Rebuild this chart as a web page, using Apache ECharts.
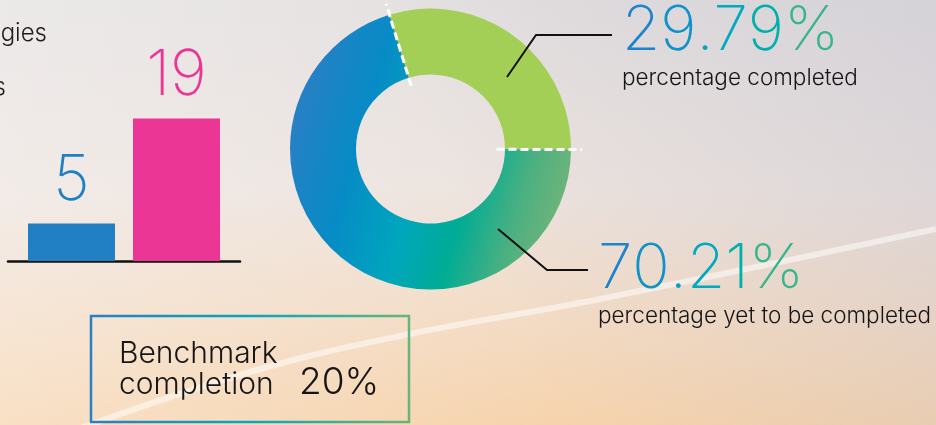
<!DOCTYPE html>
<html><head><meta charset="utf-8">
<script src="https://cdn.jsdelivr.net/npm/echarts@6/dist/echarts.min.js"></script>
<style>html,body{margin:0;padding:0;width:936px;height:425px;overflow:hidden}#c{width:936px;height:425px}</style>
</head><body><div id="c"></div><script>
// ---- data ----
const barCategories = ['Strategies', 'Actions'];
const barValues = [5, 19];
const barColors = ['#2180c4', '#ec3696'];
const donutNames = ['percentage completed', 'percentage yet to be completed'];
const donutValues = [29.79, 70.21];
const benchmarkLines = ['Benchmark', 'completion'];
const benchmarkValue = 20;
const sideTextFragments = ['gies', 's'];

// ---- styles ----
const FONT = 'Inter, "Noto Sans", sans-serif';
const numPalette = ['#1b84cc', '#0f92ca', '#07a0c6', '#00aac0', '#00b0ab', '#38b58d'];
const G = echarts.graphic;
const chart = echarts.init(document.getElementById('c'), null, {renderer: 'canvas'});

const rich = {sub: {fontFamily: FONT, fontSize: 22.5, fontWeight: 300, color: '#151515', lineHeight: 31}};
numPalette.forEach((c, i) => {
  rich['g' + i] = {fontFamily: FONT, fontSize: 62, fontWeight: 200, color: c, lineHeight: 64};
});
function pctLabel(p) {
  const s = p.value.toFixed(2) + '%';
  const chars = s.split('').map((ch, i) => '{g' + Math.min(i, numPalette.length - 1) + '|' + ch + '}').join('');
  return chars + '\n{sub|' + p.name + '}';
}

const CX = 430.5, CY = 149, START = 107;

const barSeries = barValues.map((v, i) => ({
  type: 'bar', name: barCategories[i], data: [v], barWidth: 87, barGap: '20.7%', silent: true, z: 3,
  itemStyle: {color: barColors[i]},
  label: {show: true, position: 'top', distance: 10, color: barColors[i],
    fontFamily: FONT, fontSize: 63, fontWeight: 200, lineHeight: 64}
}));

const leader = (pts) => ({type: 'polyline', z: 20, silent: true, shape: {points: pts},
  style: {stroke: '#111', lineWidth: 2, fill: null}});

const option = {
  animation: false,
  backgroundColor: new G.LinearGradient(0, 0, 0, 1, [
    {offset: 0, color: '#e3dfdf'},
    {offset: 0.45, color: '#ece3de'},
    {offset: 0.75, color: '#f3dbc4'},
    {offset: 1, color: '#f6d3ac'}
  ]),
  grid: {left: 8, width: 232, top: 111, height: 150},
  xAxis: {
    type: 'category', data: ['count'],
    axisLine: {show: true, lineStyle: {color: '#111', width: 2.5}},
    axisTick: {show: false}, axisLabel: {show: false}
  },
  yAxis: {type: 'value', min: 0, max: 20, show: false, splitLine: {show: false}},
  polar: {center: [CX, CY], radius: 152},
  angleAxis: {type: 'value', min: 0, max: 100, startAngle: START, show: false},
  radiusAxis: {type: 'value', min: 0, max: 152, show: false},
  graphic: [
    {type: 'rect', z: 0, silent: true, shape: {x: 0, y: 0, width: 936, height: 425},
      style: {fill: new G.LinearGradient(0, 0, 1, 0, [
        {offset: 0, color: 'rgba(255,255,255,0.30)'},
        {offset: 0.6, color: 'rgba(255,255,255,0)'},
        {offset: 1, color: 'rgba(255,255,255,0)'}])}},
    {type: 'rect', z: 0, silent: true, shape: {x: 0, y: 0, width: 936, height: 425},
      style: {fill: new G.LinearGradient(1, 0, 0, 1, [
        {offset: 0, color: 'rgba(180,180,200,0.30)'},
        {offset: 0.5, color: 'rgba(180,180,200,0)'},
        {offset: 1, color: 'rgba(180,180,200,0)'}])}},
    {type: 'polyline', z: 1, silent: true,
      shape: {points: [[70, 432], [250, 372], [400, 336], [600, 299], [936, 229]], smooth: 0.4},
      style: {stroke: 'rgba(255,255,255,0.5)', lineWidth: 6, fill: null}},
    leader([[507, 77], [536, 35], [612, 35]]),
    leader([[498, 229], [547, 270], [588, 270]]),
    {type: 'text', z: 10, silent: true, style: {text: sideTextFragments[0], x: 47, y: 22, align: 'right', verticalAlign: 'top',
      font: '300 24px ' + FONT, fill: '#1e1e1e'}},
    {type: 'text', z: 10, silent: true, style: {text: sideTextFragments[1], x: 6, y: 76, align: 'right', verticalAlign: 'top',
      font: '300 24px ' + FONT, fill: '#1e1e1e'}},
    {type: 'rect', z: 10, silent: true, shape: {x: 91, y: 316, width: 318, height: 106},
      style: {fill: null, lineWidth: 2.5, stroke: new G.LinearGradient(0, 0, 1, 0, [
        {offset: 0, color: '#2a7fc4'}, {offset: 0.5, color: '#00aabf'}, {offset: 1, color: '#6ab47c'}])}},
    {type: 'text', z: 10, silent: true, style: {text: benchmarkLines[0], x: 119, y: 339, align: 'left', verticalAlign: 'top',
      font: '300 30px ' + FONT, fill: '#151515'}},
    {type: 'text', z: 10, silent: true, style: {text: benchmarkLines[1], x: 119, y: 370, align: 'left', verticalAlign: 'top',
      font: '300 30px ' + FONT, fill: '#151515'}},
    {type: 'text', z: 10, silent: true, style: {text: benchmarkValue + '%', x: 299, y: 364, align: 'left', verticalAlign: 'top',
      font: '300 37px ' + FONT, fill: '#151515'}}
  ],
  series: barSeries.concat([
    {
      type: 'pie', center: [CX, CY], radius: [74.5, 140.5], startAngle: START, clockwise: true,
      silent: true, avoidLabelOverlap: false, z: 3,
      data: [
        {value: donutValues[0], name: donutNames[0], itemStyle: {color: '#a3cf56'}},
        {value: donutValues[1], name: donutNames[1], itemStyle: {color: new G.LinearGradient(0, 0.35, 1, 0.65, [
          {offset: 0, color: '#2a7fc4'}, {offset: 0.25, color: '#078bc6'}, {offset: 0.48, color: '#00a6bd'},
          {offset: 0.66, color: '#00ac95'}, {offset: 0.85, color: '#4db081'}, {offset: 1, color: '#72b479'}])}}
      ],
      label: {show: true, position: 'outside', formatter: pctLabel, rich: rich},
      labelLine: {show: false},
      labelLayout: function (p) {
        if (p.dataIndex === 0) {
          return {x: 622, y: -1, align: 'left', verticalAlign: 'top'};
        }
        return {x: 598, y: 237, align: 'left', verticalAlign: 'top'};
      }
    },
    {type: 'line', coordinateSystem: 'polar', silent: true, z: 6, symbol: 'none',
      data: [[66, 0], [152, 0]], lineStyle: {color: '#ffffff', width: 3, type: [8, 4]}},
    {type: 'line', coordinateSystem: 'polar', silent: true, z: 6, symbol: 'none',
      data: [[66, donutValues[0]], [152, donutValues[0]]], lineStyle: {color: '#ffffff', width: 3, type: [8, 4]}}
  ])
};
chart.setOption(option);
</script></body></html>
